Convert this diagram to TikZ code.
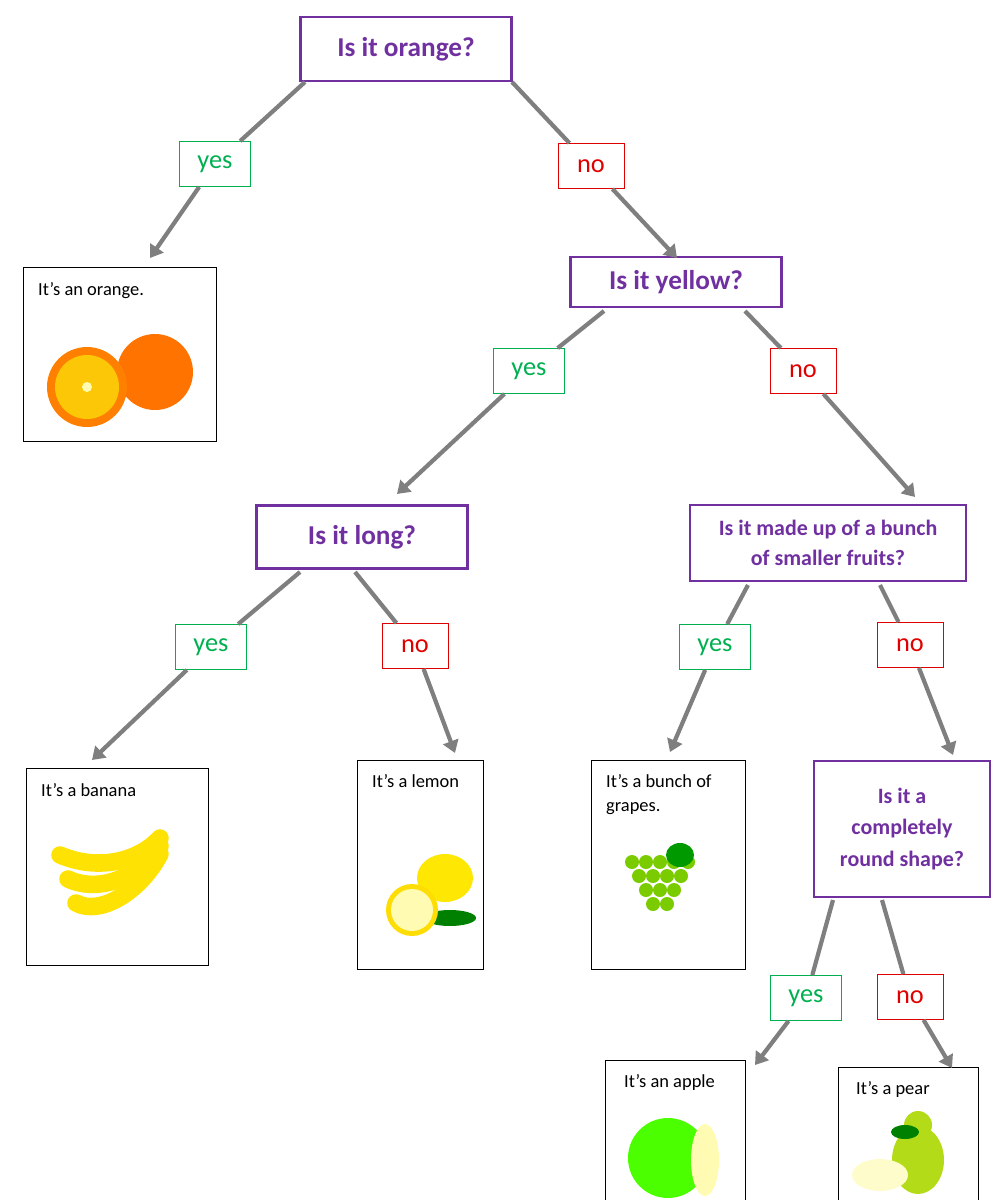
\documentclass[tikz,border=0pt]{standalone}
\usepackage{fontspec}
\setmainfont{Carlito}
\usetikzlibrary{arrows.meta,shapes.geometric}
\definecolor{purple1}{HTML}{7030A0}
\definecolor{green1}{HTML}{00B050}
\definecolor{red1}{HTML}{E00000}
\definecolor{gray1}{HTML}{7F7F7F}
\begin{document}
\begin{tikzpicture}[
    x=0.02cm, y=-0.02cm,
    question/.style={draw=purple1, line width=1.6pt, text=purple1,
                     font=\bfseries\fontsize{15.5}{18}\selectfont, align=center,
                     inner sep=2pt},
    yes/.style={draw=green1, text=green1, line width=0.5pt,
                font=\fontsize{15}{17}\selectfont, minimum width=1.42cm,
                minimum height=0.9cm, inner sep=0pt},
    no/.style={draw=red1, text=red1, line width=0.5pt,
               font=\fontsize{15}{17}\selectfont, minimum width=1.32cm,
               minimum height=0.9cm, inner sep=0pt},
    answer/.style={draw=black, line width=0.6pt, anchor=north west,
                   inner sep=0pt},
    atext/.style={anchor=north west, font=\fontsize{10.5}{14}\selectfont,
                  align=left},
    link/.style={draw=gray1, line width=2.4pt},
    arrow/.style={link, -{Triangle[length=7pt,width=9pt]}},
]
\useasboundingbox (0,0) rectangle (993,1200);
\clip (0,0) rectangle (993,1200);

% questions
\node[question, minimum width=4.22cm, minimum height=1.28cm] (q1) at (406,49) {Is it orange?};
\node[question, minimum width=4.22cm, minimum height=1.0cm] (q2) at (676,282) {Is it yellow?};
\node[question, minimum width=4.22cm, minimum height=1.26cm] (q3) at (362,537) {Is it long?};
\node[question, minimum width=5.52cm, minimum height=1.52cm,
      font=\bfseries\fontsize{12.5}{17}\selectfont] (q4) at (828,543)
    {Is it made up of a bunch\\of smaller fruits?};
\node[question, minimum width=3.52cm, minimum height=2.72cm,
      font=\bfseries\fontsize{12.5}{18}\selectfont] (q5) at (902,829)
    {Is it a\\completely\\round shape?};

% yes / no labels
\node[yes] (y1) at (215,164) {yes};
\node[no]  (n1) at (591,166) {no};
\node[yes] (y2) at (529,371) {yes};
\node[no]  (n2) at (803,371) {no};
\node[yes] (y3) at (211,647) {yes};
\node[no]  (n3) at (415,646) {no};
\node[yes] (y4) at (715,647) {yes};
\node[no]  (n4) at (910,645) {no};
\node[yes] (y5) at (806,998) {yes};
\node[no]  (n5) at (910,997) {no};

% answers
\node[answer, minimum width=3.86cm, minimum height=3.48cm] (orange) at (23,267) {};
\node[atext] at (32,276) {It’s an orange.};
\node[answer, minimum width=3.64cm, minimum height=3.94cm] (banana) at (26,768) {};
\node[atext] at (35,777) {It’s a banana};
\node[answer, minimum width=2.52cm, minimum height=4.18cm] (lemon) at (357,760) {};
\node[atext] at (366,768) {It’s a lemon};
\node[answer, minimum width=3.08cm, minimum height=4.18cm] (grapes) at (591,760) {};
\node[atext] at (600,768) {It’s a bunch of\\grapes.};
\node[answer, minimum width=2.8cm, minimum height=3.0cm] (apple) at (605,1060) {};
\node[atext] at (618,1068) {It’s an apple};
\node[answer, minimum width=2.8cm, minimum height=3.0cm] (pear) at (838,1067) {};
\node[atext] at (850,1075) {It’s a pear};

% tips and starts
\coordinate (s1) at (305,82);  \coordinate (t1) at (150,258);
\coordinate (s2) at (512,82);  \coordinate (t2) at (677,258);
\coordinate (s3) at (604,311); \coordinate (t3) at (397,494);
\coordinate (s4) at (745,311); \coordinate (t4) at (915,497);
\coordinate (s5) at (300,572); \coordinate (t5) at (92,760);
\coordinate (s6) at (355,572); \coordinate (t6) at (455,753);
\coordinate (s7) at (748,585); \coordinate (t7) at (670,752);
\coordinate (s8) at (880,585); \coordinate (t8) at (953,755);
\coordinate (s9) at (833,900); \coordinate (t9) at (755,1065);
\coordinate (s10) at (882,900); \coordinate (t10) at (952,1068);

\draw[link] (s1) -- (y1);  \draw[arrow] (y1) -- (t1);
\draw[link] (s2) -- (n1);  \draw[arrow] (n1) -- (t2);
\draw[link] (s3) -- (y2);  \draw[arrow] (y2) -- (t3);
\draw[link] (s4) -- (n2);  \draw[arrow] (n2) -- (t4);
\draw[link] (s5) -- (y3);  \draw[arrow] (y3) -- (t5);
\draw[link] (s6) -- (n3);  \draw[arrow] (n3) -- (t6);
\draw[link] (s7) -- (y4);  \draw[arrow] (y4) -- (t7);
\draw[link] (s8) -- (n4);  \draw[arrow] (n4) -- (t8);
\draw[link] (s9) -- (y5);  \draw[arrow] (y5) -- (t9);
\draw[link] (s10) -- (n5); \draw[arrow] (n5) -- (t10);

% fruit sketches
\fill[orange!90!red] (155,372) circle[radius=38];
\fill[orange] (87,387) circle[radius=40];
\fill[yellow!60!orange] (87,387) circle[radius=32];
\fill[yellow!30] (87,387) circle[radius=5];
\foreach \b in {0,1,2}
  \draw[line width=10pt, yellow!85!orange, line cap=round]
    (60+\b*8,855+\b*24) .. controls (100,872+\b*22) and (140,860+\b*16) .. (160,838+\b*8);
\fill[yellow!90!orange] (445,878) ellipse[x radius=28, y radius=24];
\fill[green!50!black] (450,918) ellipse[x radius=26, y radius=8];
\fill[yellow!80!orange] (412,910) circle[radius=26];
\fill[yellow!30] (412,910) circle[radius=21];
\foreach \i/\j in {0/0,1/0,2/0,3/0,4/0,0.5/1,1.5/1,2.5/1,3.5/1,1/2,2/2,3/2,1.5/3,2.5/3}
  \fill[green!40!yellow!80!black] (632+\i*14,862+\j*14) circle[radius=7];
\fill[green!60!black] (680,855) ellipse[x radius=14, y radius=12];
\fill[green!70!yellow] (668,1158) circle[radius=40];
\fill[yellow!30!white] (705,1160) ellipse[x radius=14, y radius=36];
\fill[yellow!70!green] (918,1160) ellipse[x radius=26, y radius=34];
\fill[yellow!70!green] (918,1125) circle[radius=14];
\fill[yellow!20] (880,1175) ellipse[x radius=28, y radius=16];
\fill[green!50!black] (905,1132) ellipse[x radius=14, y radius=7];
\end{tikzpicture}
\end{document}
